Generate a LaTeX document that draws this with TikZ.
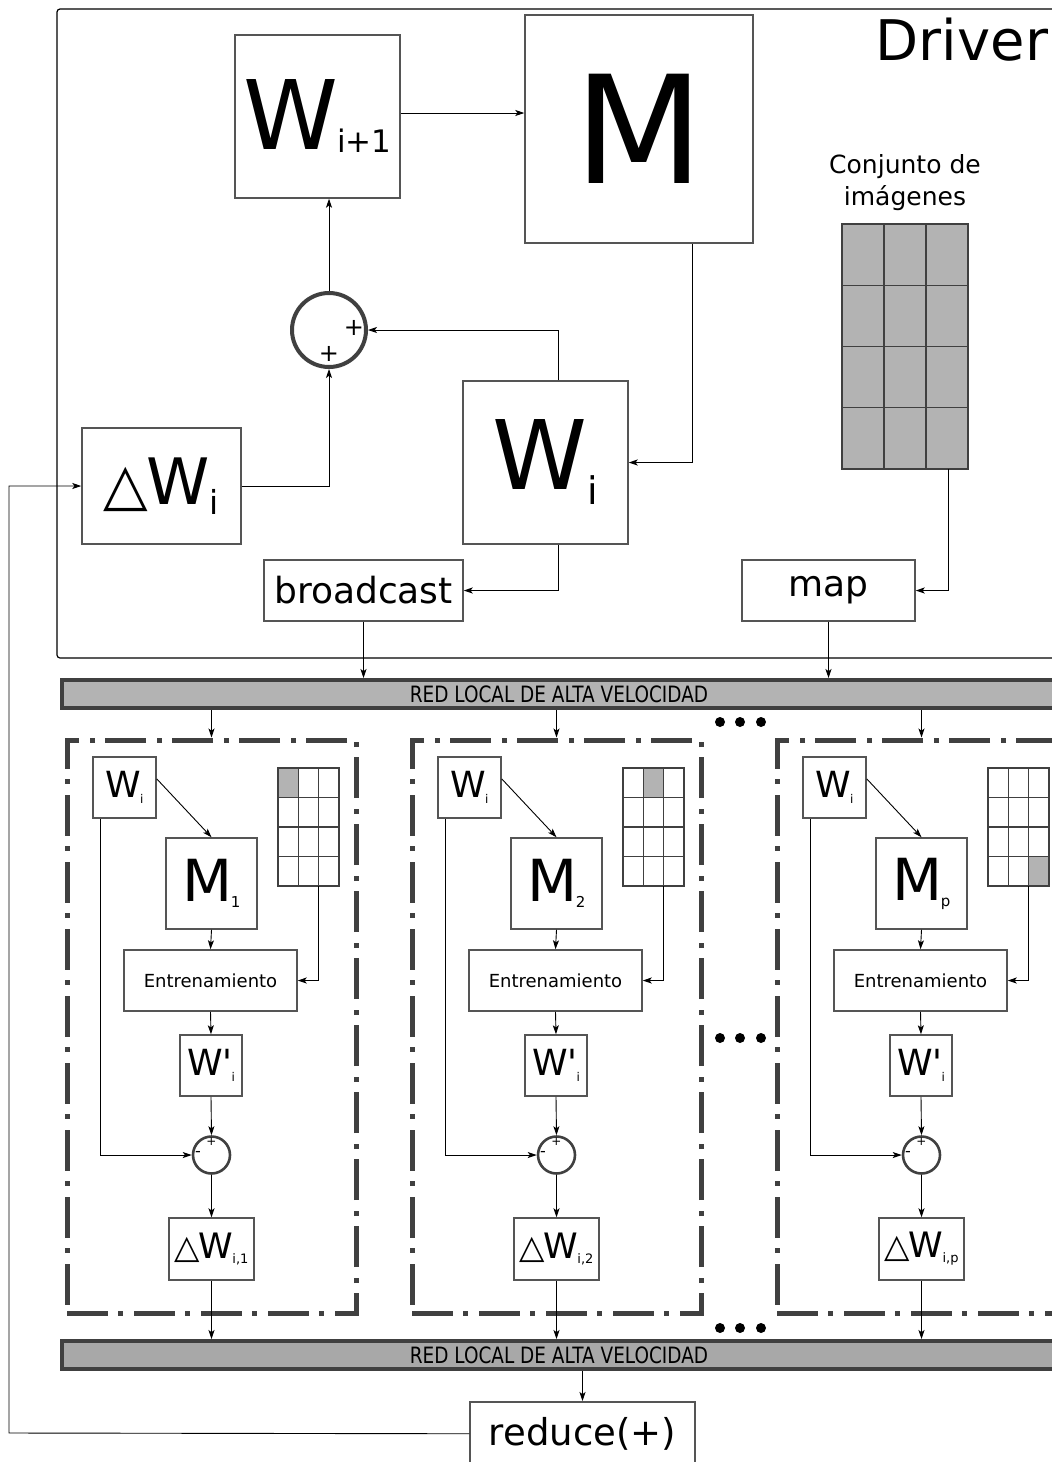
\documentclass[tikz,border=0pt]{standalone}
\usepackage{fontspec}
\setmainfont{DejaVu Sans}[Ligatures=TeXOff]
\newfontfamily\condfont{DejaVu Sans}[FakeStretch=0.82]
\usetikzlibrary{arrows.meta,positioning,calc}
\definecolor{cGrid}{HTML}{B3B3B3}
\definecolor{cNet}{HTML}{A8A8A8}
\definecolor{cEdge}{HTML}{404040}
\definecolor{cBox}{HTML}{555555}
\newcommand{\fsz}[1]{\fontsize{#1}{#1}\selectfont}
\tikzset{
  box/.style={draw=cBox,line width=1.5pt,fill=white,inner sep=0pt},
  sumnode/.style={circle,draw=cEdge,line width=4pt,minimum size=74pt,inner sep=0pt},
  difnode/.style={circle,draw=cEdge,line width=2.6pt,minimum size=37pt,inner sep=0pt},
  net/.style={draw=cEdge,line width=4pt,inner sep=0pt,font=\condfont\fsz{22.5}},
  worker/.style={draw=cEdge,line width=5pt,
                 dash pattern=on 41pt off 10pt on 5pt off 11pt,inner sep=0pt},
  arr/.style={-{Stealth[length=9pt,width=6pt,inset=2.2pt]},line width=0.9pt},
  cell/.style={draw=cEdge,line width=1.2pt},
}

\begin{document}
\begin{tikzpicture}[x=1pt,y=-1pt]
  \useasboundingbox (0,0) rectangle (1052,1462);
  \draw[line width=1.2pt,rounded corners=3pt] (1060,9) -- (57,9) -- (57,658) -- (1060,658);
  \node[font=\fsz{56}] (drv) at (962,40) {Driver};

  \node[box,minimum width=165pt,minimum height=163pt] (wnext) at (317.5,116.5)
    {\raisebox{4pt}{\fsz{96}W\kern-1pt\raisebox{-3pt}{\fsz{31}i+1}}};
  \node[box,minimum width=228pt,minimum height=228pt] (mbig) at (639,129) {\fsz{150}M};
  \node[sumnode] (sum) at (329,330) {};
  \node[font=\fsz{24}] (sumr) at (354,328) {+};
  \node[font=\fsz{24}] (sumb) at (329,354) {+};
  \node[box,minimum width=165pt,minimum height=163pt] (wcur) at (545.5,462.5)
    {\fsz{96}W\raisebox{-15pt}{\fsz{38}i}};
  \node[box,minimum width=159pt,minimum height=116pt] (dwi) at (161.5,486)
    {{\fsz{58}△}\kern-2pt{\fsz{64}W}\raisebox{-10pt}{\fsz{33}i}};
  \node[box,minimum width=199pt,minimum height=61pt] (bcast) at (363.5,590.5) {\fsz{36}broadcast};
  \node[box,minimum width=173pt,minimum height=61pt] (mapb) at (828.5,590.5) {\fsz{36}map};

  \node[align=center,font={\fontsize{25}{32}\selectfont}] (conj) at (905,183) {Conjunto de\\imágenes};
  \foreach \c in {0,1,2} \foreach \r in {0,...,3}
    \draw[cell,fill=cGrid] ({842+42*\c},{224+61.25*\r}) rectangle ++(42,61.25);
  \coordinate (img) at (948,469);

  \draw[arr] (sum.north) -- (sum.north |- wnext.south);
  \draw[arr] ([yshift=3.5pt]wnext.east) -- ([yshift=3.5pt]wnext.east -| mbig.west);
  \draw[arr] ([xshift=53pt]mbig.south) |- (wcur.east);
  \draw[arr] ([xshift=13pt]wcur.north) |- (sum.east);
  \draw[arr] (dwi.east) -| (sum.south);
  \draw[arr] ([xshift=13pt]wcur.south) |- (bcast.east);
  \draw[arr] (img) |- (mapb.east);

  \node[net,fill=cGrid,minimum width=994pt,minimum height=28pt,anchor=north west] (net1) at (60,678)
    {RED LOCAL DE ALTA VELOCIDAD};
  \draw[arr] (bcast.south) -- (bcast.south |- net1.north);
  \draw[arr] (mapb.south) -- (mapb.south |- net1.north);
  \node[net,fill=cNet,minimum width=994pt,minimum height=28pt,anchor=north west] (net2) at (60,1339)
    {RED LOCAL DE ALTA VELOCIDAD};

  \foreach \dx/\k/\sc/\sr in {0/1/0/0,345/2/1/0,710/p/2/3} {
    \node[worker,minimum width=289pt,minimum height=573pt] (wk\k) at ({211.5+\dx},1026.5) {};
    \draw[arr] (wk\k.north |- net1.south) -- (wk\k.north);
    \node[box,minimum width=63pt,minimum height=61pt] (wi\k) at ({124.5+\dx},787.5)
      {\fsz{36}W\kern-1pt\raisebox{-6pt}{\fsz{12}i}};
    \node[box,minimum width=91pt,minimum height=91pt] (m\k) at ({211.5+\dx},883.5)
      {\fsz{58}M\kern-2pt\raisebox{-6pt}{\fsz{15}\k}};
    \fill[cGrid] ({278+\dx+20.33*\sc},{768+29.5*\sr}) rectangle ++(20.33,29.5);
    \foreach \c in {0,1,2} \foreach \r in {0,...,3}
      \draw[cell] ({278+\dx+20.33*\c},{768+29.5*\r}) rectangle ++(20.33,29.5);
    \coordinate (sg\k) at ({318+\dx},886);
    \node[box,minimum width=173pt,minimum height=61pt] (ent\k) at ({210.5+\dx},980.5)
      {\fsz{18}Entrenamiento};
    \node[box,minimum width=62pt,minimum height=61pt] (wp\k) at ({211+\dx},1065.5)
      {\fsz{36}W'\kern-1pt\raisebox{-6pt}{\fsz{12}i}};
    \node[difnode] (dif\k) at ({211.5+\dx},1155) {};
    \node[font=\fsz{12}] (difp\k) at ({211.5+\dx},1142) {+};
    \node[font=\fsz{16}] (difm\k) at ({198+\dx},1154) {-};
    \node[box,minimum width=85pt,minimum height=62pt] (dwk\k) at ({211.5+\dx},1249)
      {{\fsz{33}△}\kern-1pt{\fsz{35}W}\kern-1pt\raisebox{-5pt}{\fsz{13}i,\k}};
    \draw[arr] (wi\k.15) -- (m\k.north);
    \draw[arr] (m\k.south) -- (ent\k.north);
    \draw[arr] (sg\k) |- (ent\k.east);
    \draw[arr] (ent\k.south) -- (wp\k.north);
    \draw[arr] (wp\k.south) -- (dif\k.north);
    \draw[arr] ([xshift=-24.5pt]wi\k.south) |- (dif\k.west);
    \draw[arr] (dif\k.south) -- (dwk\k.north);
    \draw[arr] (dwk\k.south) -- (dwk\k.south |- net2.north);
  }

  \foreach \y in {722,1038,1328} \foreach \x in {720,740,761}
    \fill (\x,\y) circle (5pt);

  \node[box,minimum width=225pt,minimum height=64pt,anchor=north] (red) at (582.5,1401)
    {\fsz{37}reduce(+)};
  \draw[arr] (red.north |- net2.south) -- (red.north);
  \coordinate (fb) at (9,1433);
  \draw[arr] (red.west) -- (fb) |- (dwi.west);
\end{tikzpicture}
\end{document}
